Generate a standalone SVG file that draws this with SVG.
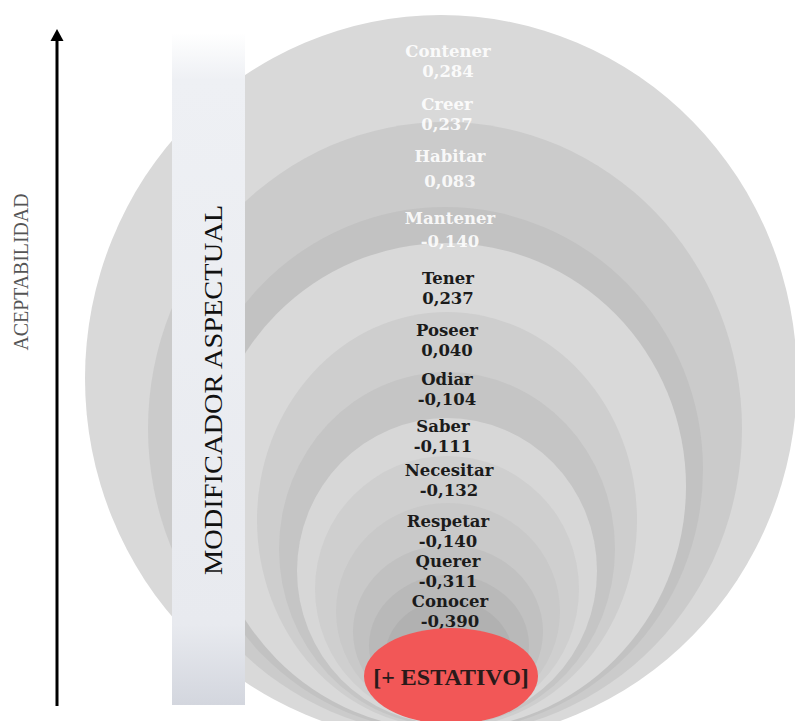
<svg xmlns="http://www.w3.org/2000/svg" width="795" height="721" viewBox="0 0 795 721">
<defs>
<linearGradient id="pillar" x1="0" y1="0" x2="0" y2="1">
<stop offset="0" stop-color="#ffffff"/>
<stop offset="0.07" stop-color="#eef0f4"/>
<stop offset="0.88" stop-color="#e8eaef"/>
<stop offset="1" stop-color="#d3d6de"/>
</linearGradient>
<style>
.lbl{font-family:"DejaVu Serif","Liberation Serif",serif;font-weight:bold;font-size:16.5px;text-anchor:middle}
.w{fill:#ffffff;fill-opacity:0.9}
.k{fill:#1b1b1b}
</style>
</defs>
<rect width="795" height="721" fill="#ffffff"/>
<g id="rings">
<ellipse id="e1" cx="441" cy="378.5" rx="356" ry="363.5" fill="#d9d9d9"/>
<ellipse id="e2" cx="445" cy="428.5" rx="297" ry="306.5" fill="#cbcbcb"/>
<ellipse id="e3" cx="445" cy="469.5" rx="258" ry="262.5" fill="#c2c2c2"/>
<ellipse id="e4" cx="446" cy="486.5" rx="240" ry="243.5" fill="#d9d9d9"/>
<ellipse id="e5" cx="447" cy="520" rx="190" ry="208" fill="#cecece"/>
<ellipse id="e6" cx="447" cy="549" rx="168" ry="177" fill="#c5c5c5"/>
<ellipse id="e7" cx="447" cy="571" rx="150" ry="153" fill="#d7d7d7"/>
<ellipse id="e8" cx="447" cy="589" rx="132" ry="133" fill="#cfcfcf"/>
<ellipse id="e9" cx="448" cy="611.5" rx="112" ry="108.5" fill="#c9c9c9"/>
<ellipse id="e10" cx="448" cy="631.5" rx="95" ry="86.5" fill="#c1c1c1"/>
<ellipse id="e11" cx="449" cy="645.5" rx="80" ry="70.5" fill="#b9b9b9"/>
<ellipse id="e12" cx="449" cy="657" rx="64" ry="57" fill="#b1b1b1"/>
</g>
<g id="pillar-node">
<rect x="172" y="33" width="73" height="672" fill="url(#pillar)"/>
<text x="222" y="390" transform="rotate(-90 222 390)" font-family="'Liberation Serif',serif" font-size="26" fill="#111" text-anchor="middle" textLength="370" lengthAdjust="spacingAndGlyphs">MODIFICADOR ASPECTUAL</text>
</g>
<g id="axis-label">
<text x="28" y="272" transform="rotate(-90 28 272)" font-family="'Liberation Serif',serif" font-size="22" fill="#555555" text-anchor="middle" textLength="157" lengthAdjust="spacingAndGlyphs">ACEPTABILIDAD</text>
</g>
<g id="connectors">
<line x1="57" y1="706" x2="57" y2="40" stroke="#000" stroke-width="3"/>
<path d="M50.5,41 L57,29 L63.5,41 Z" fill="#000"/>
</g>
<g id="contener"><text class="lbl w" x="448" y="57">Contener</text><text class="lbl w" x="448" y="77">0,284</text></g>
<g id="creer"><text class="lbl w" x="447" y="110">Creer</text><text class="lbl w" x="447" y="130">0,237</text></g>
<g id="habitar"><text class="lbl w" x="450" y="162">Habitar</text><text class="lbl w" x="450" y="187">0,083</text></g>
<g id="mantener"><text class="lbl w" x="450" y="224">Mantener</text><text class="lbl w" x="450" y="247">-0,140</text></g>
<g id="tener"><text class="lbl k" x="448" y="284">Tener</text><text class="lbl k" x="448" y="304">0,237</text></g>
<g id="poseer"><text class="lbl k" x="447" y="336">Poseer</text><text class="lbl k" x="447" y="356">0,040</text></g>
<g id="odiar"><text class="lbl k" x="447" y="385">Odiar</text><text class="lbl k" x="447" y="405">-0,104</text></g>
<g id="saber"><text class="lbl k" x="443" y="432">Saber</text><text class="lbl k" x="443" y="452">-0,111</text></g>
<g id="necesitar"><text class="lbl k" x="449" y="476">Necesitar</text><text class="lbl k" x="449" y="496">-0,132</text></g>
<g id="respetar"><text class="lbl k" x="448" y="527">Respetar</text><text class="lbl k" x="448" y="547">-0,140</text></g>
<g id="querer"><text class="lbl k" x="448" y="567">Querer</text><text class="lbl k" x="448" y="587">-0,311</text></g>
<g id="conocer"><text class="lbl k" x="450" y="607">Conocer</text><text class="lbl k" x="450" y="627">-0,390</text></g>
<g id="estativo">
<ellipse cx="451" cy="676" rx="87" ry="48" fill="#f25757"/>
<text x="451" y="685" font-family="'Liberation Serif',serif" font-weight="bold" font-size="24" fill="#2a1a1a" text-anchor="middle">[+ ESTATIVO]</text>
</g>
</svg>
